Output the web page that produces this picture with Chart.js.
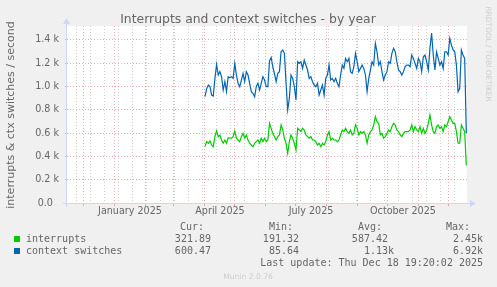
<!DOCTYPE html>
<html>
<head>
<meta charset="utf-8">
<script src="https://cdn.jsdelivr.net/npm/chart.js@4/dist/chart.umd.min.js"></script>
<style>
  html, body { margin: 0; padding: 0; background: #f0f0f0; }
  #wrap { width: 497px; height: 287px; }
</style>
</head>
<body>
<div id="wrap"><canvas id="graph" width="497" height="287"></canvas></div>
<script>
// days counted from 14 Nov 2024 (left edge of the graph), one day per pixel
const startDay = 138;
const stepDays = 1.654;

const interrupts = [
  484, 527, 513, 533, 498, 484, 570, 619, 570, 584, 541, 513, 541, 513, 561, 556, 556, 570, 619, 556,
  541, 527, 570, 598, 556, 584, 541, 513, 498, 484, 513, 527, 541, 513, 556, 527, 556, 527,
  541, 684, 641, 598, 570, 541, 570, 584, 670, 627, 556, 513, 427, 527, 584, 556, 513, 455, 641, 627,
  613, 641, 627, 584, 570, 556, 570, 541, 541, 527, 498, 513, 484, 513, 498, 527, 584, 613, 541, 556,
  541, 541, 527, 541, 584, 627, 613, 641, 613, 598, 627, 584, 598, 670, 641, 584, 613, 598, 613, 584,
  513, 584, 613, 627, 670, 742, 699, 684, 584, 598, 556, 570, 598, 627, 613, 656, 684, 670, 627, 613,
  584, 570, 598, 613, 613, 613, 627, 670, 613, 656, 627, 613, 656, 598, 641, 598, 627, 684, 756, 670,
  613, 598, 656, 670, 641, 656, 613, 670, 656, 699, 742, 713, 684, 684, 613, 513, 513, 670, 641, 613,
  322
];

const ctxSwitches = [
  913, 980, 1013, 999, 927, 919, 1070, 1190, 1099, 1128, 1085, 970, 1042, 956, 1085, 1076, 1085, 1070, 1199, 1099,
  1028, 999, 1056, 1113, 1042, 1128, 1099, 1028, 956, 942, 913, 999, 1028, 970, 1028, 1085, 1056, 999,
  999, 1220, 1250, 1170, 1110, 1042, 1113, 1128, 1299, 1314, 1285, 1030, 800, 899, 1099, 1070, 999, 885, 1213, 1199,
  1213, 1156, 1228, 1185, 1142, 1070, 1085, 1042, 1013, 999, 1028, 927, 970, 1013, 927, 1070, 1099, 1185, 1056, 1070,
  1042, 1070, 1028, 999, 1099, 1185, 1156, 1242, 1213, 1242, 1128, 1113, 1171, 1285, 1213, 1128, 1156, 1185, 1156, 1099,
  956, 1070, 1142, 1213, 1185, 1371, 1299, 1185, 1213, 1128, 1056, 1099, 1128, 1213, 1199, 1285, 1328, 1299, 1213, 1142,
  1128, 1099, 1128, 1171, 1185, 1185, 1171, 1271, 1242, 1199, 1156, 1242, 1213, 1128, 1256, 1271, 1213, 1142, 1328, 1460,
  1271, 1142, 1299, 1242, 1185, 1213, 1156, 1299, 1299, 1271, 1414, 1356, 1314, 1299, 1185, 956, 985, 1314, 1271, 1242,
  600
];

// month starts (major grid), Dec 2024 .. Dec 2025
const monthStarts = [16.5, 47.5, 78.5, 106.5, 137.5, 167.5, 198.5, 228.5, 259.5, 290.5, 320.5, 351.5, 381.5];
// fortnightly minor grid
const minorDays = [9.5, 23.5, 37.5, 51.5, 65.5, 79.5, 93.5, 107.5, 121.5, 135.5, 149.5, 163.5, 177.5, 191.5,
  205.5, 219.5, 233.5, 247.5, 261.5, 275.5, 289.5, 303.5, 317.5, 331.5, 345.5, 359.5, 373.5, 387.5];
const xLabelDays = [63, 153, 244, 336];
const xLabelTexts = ['January 2025', 'April 2025', 'July 2025', 'October 2025'];

const yTicks = [0, 100, 200, 300, 400, 500, 600, 700, 800, 900, 1000, 1100, 1200, 1300, 1400, 1500];

const legendRows = [
  { name: 'interrupts', color: '#00cc00', cur: '321.89', min: '191.32', avg: '587.42', max: '2.45k' },
  { name: 'context switches', color: '#0066b3', cur: '600.47', min: '85.64', avg: '1.13k', max: '6.92k' }
];

function toPoints(values) {
  return values.map((v, i) => ({ x: startDay + i * stepDays, y: v }));
}

const fontColor = '#666666';
const majorGrid = 'rgba(225, 90, 90, 0.5)';
const minorGrid = 'rgba(160, 160, 160, 0.5)';
const none = 'rgba(0,0,0,0)';

const muninPlugin = {
  id: 'munin',
  beforeDraw(chart) {
    const c = chart.ctx, a = chart.chartArea;
    c.save();
    c.fillStyle = '#f0f0f0';
    c.fillRect(0, 0, chart.width, chart.height);
    c.fillStyle = '#ffffff';
    c.fillRect(a.left, a.top, a.right - a.left, a.bottom - a.top);
    c.restore();
  },
  beforeDatasetsDraw(chart) {
    const c = chart.ctx, a = chart.chartArea;
    c.save();
    c.strokeStyle = '#cfd6f8';
    c.fillStyle = '#cfd6f8';
    c.lineWidth = 1;
    c.beginPath();
    c.moveTo(a.left - 4, a.bottom + 0.5);
    c.lineTo(a.right + 4, a.bottom + 0.5);
    c.moveTo(a.left - 0.5, a.bottom + 4);
    c.lineTo(a.left - 0.5, a.top - 3);
    c.stroke();
    // arrows
    c.beginPath();
    c.moveTo(a.right + 3, a.bottom - 3);
    c.lineTo(a.right + 9, a.bottom + 0.5);
    c.lineTo(a.right + 3, a.bottom + 4);
    c.closePath();
    c.fill();
    c.beginPath();
    c.moveTo(a.left - 4, a.top - 2);
    c.lineTo(a.left - 0.5, a.top - 8);
    c.lineTo(a.left + 3, a.top - 2);
    c.closePath();
    c.fill();
    c.restore();
  },
  afterDraw(chart) {
    const c = chart.ctx;
    c.save();
    c.textBaseline = 'middle';

    c.fillStyle = fontColor;
    c.font = '12.4px "DejaVu Sans"';
    c.textAlign = 'center';
    c.fillText('Interrupts and context switches - by year', 248, 19.5);

    c.save();
    c.translate(11, 115);
    c.rotate(-Math.PI / 2);
    c.font = '11px "DejaVu Sans"';
    c.fillText('interrupts & ctx switches / second', 0, 0);
    c.restore();

    c.save();
    c.translate(487.5, 54);
    c.rotate(Math.PI / 2);
    c.fillStyle = '#cccccc';
    c.font = '7.4px "DejaVu Sans"';
    c.fillText('RRDTOOL / TOBI OETIKER', 0, 0);
    c.restore();

    c.font = '10px "DejaVu Sans Mono"';
    c.textAlign = 'right';
    c.fillStyle = fontColor;
    c.fillText('Cur:', 204, 227);
    c.fillText('Min:', 293, 227);
    c.fillText('Avg:', 382, 227);
    c.fillText('Max:', 470, 227);

    legendRows.forEach((row, i) => {
      const y = 239 + i * 12;
      c.fillStyle = row.color;
      c.fillRect(14, y - 3, 6, 6);
      c.fillStyle = fontColor;
      c.textAlign = 'left';
      c.fillText(row.name, 26, y);
      c.textAlign = 'right';
      c.fillText(row.cur + ' ', 217, y);
      c.fillText(row.min + ' ', 305, y);
      c.fillText(row.avg + (row.avg.endsWith('k') ? '' : ' '), 394, y);
      c.fillText(row.max, 483, y);
    });

    c.fillText('Last update: Thu Dec 18 19:20:02 2025', 483, 263);

    c.textAlign = 'center';
    c.fillStyle = '#cccccc';
    c.font = '7.6px "DejaVu Sans"';
    c.fillText('Munin 2.0.76', 248, 277);
    c.restore();
  }
};

const xTickList = []
  .concat(monthStarts)
  .concat(minorDays)
  .concat(xLabelDays)
  .sort((p, q) => p - q);

function xKind(v) {
  if (monthStarts.includes(v)) return 'major';
  if (minorDays.includes(v)) return 'minor';
  return 'label';
}

new Chart(document.getElementById('graph'), {
  type: 'line',
  data: {
    datasets: [
      {
        label: 'interrupts',
        data: toPoints(interrupts),
        borderColor: '#00cc00',
        borderWidth: 1.2,
        pointRadius: 0,
        tension: 0
      },
      {
        label: 'context switches',
        data: toPoints(ctxSwitches),
        borderColor: '#0066b3',
        borderWidth: 1.2,
        pointRadius: 0,
        tension: 0
      }
    ]
  },
  options: {
    responsive: false,
    animation: false,
    events: [],
    layout: { padding: { left: 0, right: 30, top: 26, bottom: 64 } },
    plugins: {
      legend: { display: false },
      title: { display: false },
      tooltip: { enabled: false }
    },
    scales: {
      x: {
        type: 'linear',
        min: 0,
        max: 400,
        afterFit(scale) { scale.height = 20; },
        afterBuildTicks(scale) { scale.ticks = xTickList.map(v => ({ value: v })); },
        grid: {
          drawTicks: true,
          tickLength: 3,
          lineWidth: 1,
          color(ctx) {
            const k = xKind(ctx.tick.value);
            return k === 'major' ? majorGrid : (k === 'minor' ? minorGrid : none);
          },
          tickColor(ctx) {
            return xKind(ctx.tick.value) === 'major' ? majorGrid : none;
          }
        },
        border: { display: false, dash: [1, 2] },
        ticks: {
          autoSkip: false,
          maxRotation: 0,
          padding: 0,
          color: fontColor,
          font: { family: 'DejaVu Sans', size: 9.6 },
          callback(value) {
            const i = xLabelDays.indexOf(value);
            return i >= 0 ? xLabelTexts[i] : '';
          }
        }
      },
      y: {
        type: 'linear',
        min: 0,
        max: 1520,
        afterFit(scale) { scale.width = 67; },
        afterBuildTicks(scale) { scale.ticks = yTicks.map(v => ({ value: v })); },
        grid: {
          drawTicks: true,
          tickLength: 2,
          lineWidth: 1,
          color(ctx) {
            const v = ctx.tick.value;
            if (v === 0) return none;
            return v % 200 === 0 ? majorGrid : minorGrid;
          },
          tickColor(ctx) {
            const v = ctx.tick.value;
            return v !== 0 && v % 200 === 0 ? majorGrid : none;
          }
        },
        border: { display: false, dash: [1, 2] },
        ticks: {
          padding: 6,
          color: fontColor,
          font: { family: 'DejaVu Sans', size: 9.6 },
          callback(value) {
            if (value % 200 !== 0) return '';
            if (value === 0) return '0.0  ';
            return (value / 1000).toFixed(1) + ' k';
          }
        }
      }
    }
  },
  plugins: [muninPlugin]
});
</script>
</body>
</html>
